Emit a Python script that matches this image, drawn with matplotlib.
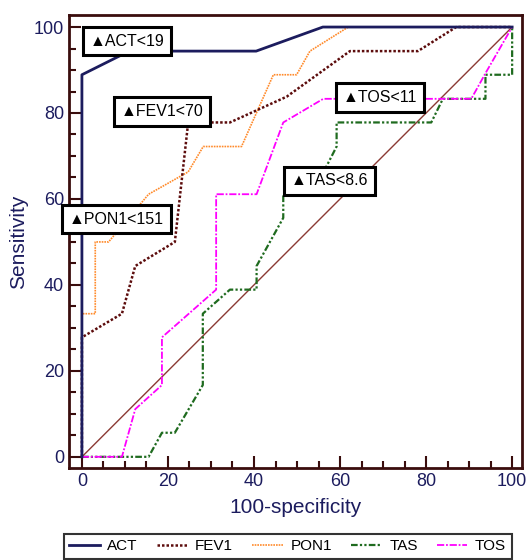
import matplotlib
matplotlib.use("Agg")
import matplotlib.pyplot as plt
from matplotlib.ticker import MultipleLocator

plt.rcParams['font.family'] = ['Liberation Sans', 'DejaVu Sans']

# ROC curves (x = 100-specificity, y = sensitivity)
act_x = [0, 0, 11, 40.5, 56, 100]
act_y = [0, 88.9, 94.4, 94.4, 100, 100]

fev1_x = [0, 0, 9.3, 12.4, 21.6, 24.7, 34.4, 47.6, 62.3, 78.1, 87, 100]
fev1_y = [0, 27.8, 33.3, 44.4, 50, 77.8, 77.8, 83.8, 94.4, 94.4, 100, 100]

pon1_x = [0, 0, 3.1, 3.1, 6.2, 15.5, 24.7, 28.2, 37.1, 44.5, 49.9, 53, 61.9, 100]
pon1_y = [0, 33.3, 33.3, 50, 50, 61.1, 66.3, 72.2, 72.2, 88.9, 88.9, 94.4, 100, 100]

tas_x = [0, 15.5, 18.6, 21.6, 28.1, 28.1, 34.4, 40.6, 40.6, 46.8, 46.8, 56.8, 59.2,
         59.2, 81.2, 83.9, 93.8, 93.8, 100, 100]
tas_y = [0, 0, 5.6, 5.6, 16.7, 33.3, 38.9, 38.9, 44.4, 55.6, 61.1, 67.5, 72.2,
         77.8, 77.8, 83.3, 83.3, 88.9, 88.9, 100]

tos_x = [0, 9.3, 12.4, 18.6, 18.6, 31.2, 31.2, 40.6, 46.8, 56.1, 90.5, 94, 100]
tos_y = [0, 0, 11.1, 16.7, 27.8, 38.9, 61.1, 61.1, 77.8, 83.3, 83.3, 89.6, 100]

# cut-off labels and where they sit
cut_labels = ["ACT<19", "FEV1<70", "PON1<151", "TAS<8.6", "TOS<11"]
cut_x = [10.5, 18.7, 8.0, 57.6, 69.2]
cut_y = [96.7, 80.3, 55.3, 64.2, 83.6]

navy = "#1c1c5e"
frame = "#3a0d0d"

fig = plt.figure(figsize=(5.28, 5.6), dpi=100)
ax = fig.add_axes([0.1307, 0.1643, 0.858, 0.8089])

ax.plot([0, 100], [0, 100], color="#8b3a34", lw=1.0)
ax.plot(tas_x, tas_y, color="#1f6b1f", lw=1.6, ls=(0, (3, 1, 1, 1, 1, 1)), label="TAS")
ax.plot(tos_x, tos_y, color="#ff00ff", lw=1.3, ls=(0, (4, 1, 1, 1)), label="TOS")
ax.plot(pon1_x, pon1_y, color="#ff8a2a", lw=1.2, ls=(0, (1, 0.6)), label="PON1")
ax.plot(fev1_x, fev1_y, color="#5c0c0c", lw=1.8, ls=(0, (1, 0.8)), label="FEV1")
ax.plot(act_x, act_y, color=navy, lw=2.0, label="ACT")

for lab, x, y in zip(cut_labels, cut_x, cut_y):
    ax.text(x, y, "\u25b2" + lab, fontsize=11.5, ha="center", va="center", color="black",
            family=['Liberation Sans', 'DejaVu Sans'],
            bbox=dict(boxstyle="square,pad=0.42", fc="white", ec="black", lw=2.2))

ax.set_xlim(-3, 102.3)
ax.set_ylim(-2.6, 102.8)
ax.xaxis.set_major_locator(MultipleLocator(20))
ax.xaxis.set_minor_locator(MultipleLocator(5))
ax.yaxis.set_major_locator(MultipleLocator(20))
ax.yaxis.set_minor_locator(MultipleLocator(5))
ax.tick_params(which="both", direction="in", color=frame, width=1.5, labelsize=13,
               labelcolor=navy)
ax.tick_params(which="major", length=8.5)
ax.tick_params(which="minor", length=5)
for s in ax.spines.values():
    s.set_color(frame)
    s.set_linewidth(2.0)

ax.set_xlabel("100-specificity", fontsize=15, color=navy, labelpad=6)
ax.set_ylabel("Sensitivity", fontsize=15, color=navy, labelpad=4)

handles, labels = ax.get_legend_handles_labels()
order = ["ACT", "FEV1", "PON1", "TAS", "TOS"]
hmap = dict(zip(labels, handles))
leg = fig.legend([hmap[k] for k in order], order, loc="upper left",
                 bbox_to_anchor=(0.121, 0.0464), ncol=5, fontsize=11, frameon=True,
                 fancybox=False, edgecolor="black", handlelength=2.0,
                 columnspacing=1.25, handletextpad=0.5, borderpad=0.35,
                 borderaxespad=0)
leg.get_frame().set_linewidth(1.5)

fig.savefig("out.png", dpi=100)
